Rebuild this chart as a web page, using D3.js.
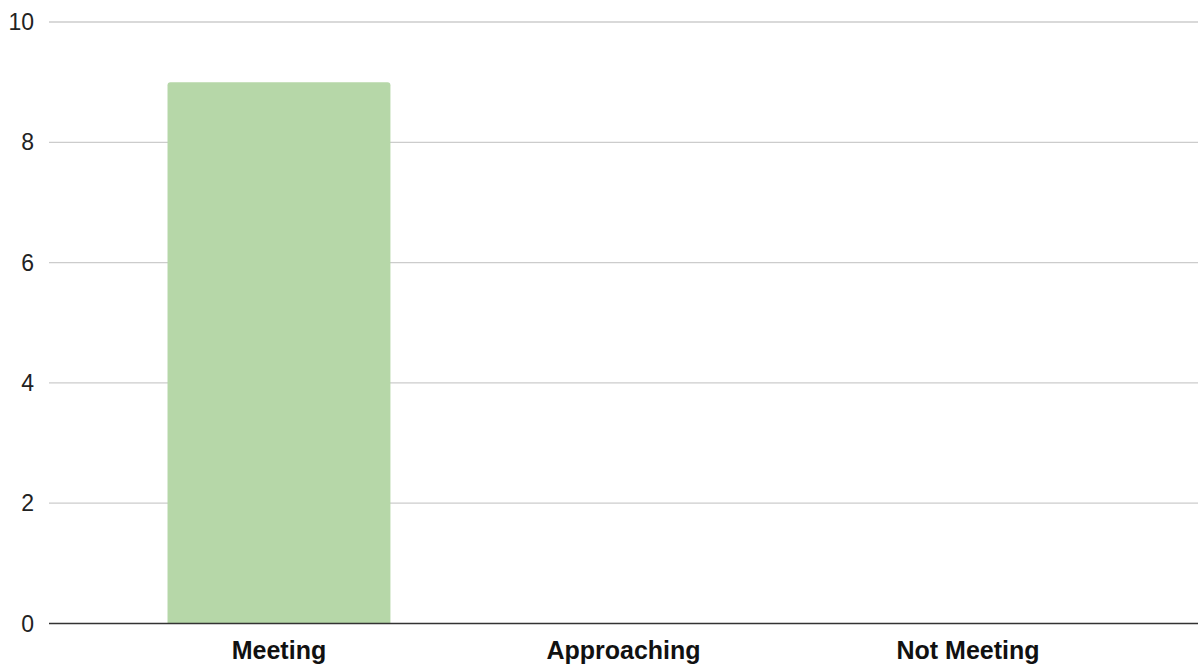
<html>
<head>
    <script src="https://cdn.jsdelivr.net/npm/d3@7"></script>
    <style>
        body { margin: 0; background: #fff; }
        svg { display: block; }
    </style>
</head>
<body>
<svg width="1198" height="667"></svg>
<script>
    // data
    var categories = ['Meeting', 'Approaching', 'Not Meeting']
    var counts = [9, 0, 0]
    var yTicks = [0, 2, 4, 6, 8, 10]

    var plotLeft = 49, plotRight = 1198, plotTop = 22, plotBottom = 623.5

    var svg = d3.select('svg')

    var x = d3.scaleBand()
        .domain(categories)
        .range([plotLeft, plotRight])
        .paddingInner(0.353)
        .paddingOuter(0.344)

    var y = d3.scaleLinear().domain([0, 10]).range([plotBottom, plotTop])

    // grid lines
    svg.append('g')
        .selectAll('line')
        .data(yTicks.filter(function(d){ return d > 0 }))
        .enter()
        .append('line')
        .attr('x1', plotLeft)
        .attr('x2', plotRight)
        .attr('y1', function(d){ return y(d) })
        .attr('y2', function(d){ return y(d) })
        .attr('stroke', '#cccccc')
        .attr('stroke-width', 1.3)

    // tick labels
    svg.append('g')
        .selectAll('text')
        .data(yTicks)
        .enter()
        .append('text')
        .attr('x', 34)
        .attr('y', function(d){ return y(d) })
        .attr('dy', '0.35em')
        .attr('text-anchor', 'end')
        .attr('font-family', 'Liberation Sans, Arial, sans-serif')
        .attr('font-size', 23)
        .attr('fill', '#222')
        .text(function(d){ return d })

    // bars with rounded top
    var r = 3
    svg.append('g')
        .selectAll('path')
        .data(categories.filter(function(c, i){ return counts[i] > 0 }))
        .enter()
        .append('path')
        .attr('fill', '#b6d7a8')
        .attr('d', function(c){
            var v = counts[categories.indexOf(c)]
            var x0 = x(c), x1 = x(c) + x.bandwidth()
            var y0 = y(0), y1 = y(v)
            return 'M' + x0 + ',' + y0 +
                'V' + (y1 + r) +
                'Q' + x0 + ',' + y1 + ' ' + (x0 + r) + ',' + y1 +
                'H' + (x1 - r) +
                'Q' + x1 + ',' + y1 + ' ' + x1 + ',' + (y1 + r) +
                'V' + y0 + 'Z'
        })

    // baseline
    svg.append('line')
        .attr('x1', plotLeft)
        .attr('x2', plotRight)
        .attr('y1', y(0))
        .attr('y2', y(0))
        .attr('stroke', '#333')
        .attr('stroke-width', 1.5)

    // category labels
    svg.append('g')
        .selectAll('text')
        .data(categories)
        .enter()
        .append('text')
        .attr('x', function(d){ return x(d) + x.bandwidth() / 2 })
        .attr('y', 659)
        .attr('text-anchor', 'middle')
        .attr('font-family', 'Liberation Sans, Arial, sans-serif')
        .attr('font-size', 25)
        .attr('font-weight', 'bold')
        .attr('fill', '#111')
        .text(function(d){ return d })
</script>
</body>
</html>
